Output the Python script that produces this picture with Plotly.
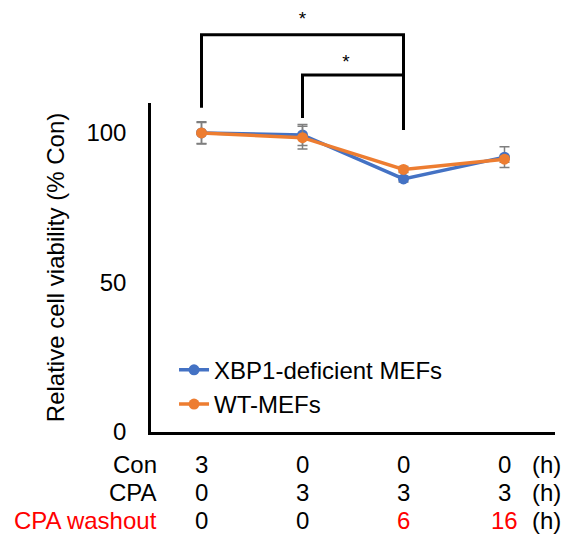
import plotly.graph_objects as go

positions = [0, 1, 2, 3]
xbp1 = [100.0, 99.3, 84.6, 91.9]
xbp1_err = [3.5, 3.5, 1.0, 3.5]
wt = [100.0, 98.4, 87.8, 91.2]
wt_err = [3.7, 3.8, 1.0, 1.0]

con_h = ["3", "0", "0", "0"]
cpa_h = ["0", "3", "3", "3"]
washout_h = ["0", "0", "6", "16"]
row_labels = ["Con", "CPA", "CPA washout"]

# significance brackets (data units)
outer_x = [0, 0, 2, 2]
outer_y = [108.4, 132.8, 132.8, 101]
inner_x = [1, 1, 2]
inner_y = [105, 119.4, 119.4]
star_x = [1.0, 1.43]
star_y = [137.8, 123.4]

FONT = "Liberation Sans, Arial, sans-serif"
BLUE = "#4472C4"
ORANGE = "#ED7D31"
GREY = "#7F7F7F"
FS = 24

YMAX = 110
D1 = 329 / 432

fig = go.Figure()
fig.add_trace(go.Scatter(
    x=positions, y=xbp1, name="XBP1-deficient MEFs", mode="lines+markers",
    line=dict(color=BLUE, width=3.5), marker=dict(color=BLUE, size=11),
    error_y=dict(type="data", array=xbp1_err, color=GREY, thickness=1.5, width=5),
))
fig.add_trace(go.Scatter(
    x=positions, y=wt, name="WT-MEFs", mode="lines+markers",
    line=dict(color=ORANGE, width=3.5), marker=dict(color=ORANGE, size=11),
    error_y=dict(type="data", array=wt_err, color=GREY, thickness=1.5, width=5),
))
for bx, by in [(outer_x, outer_y), (inner_x, inner_y)]:
    fig.add_trace(go.Scatter(
        x=bx, y=by, mode="lines", xaxis="x2", yaxis="y2",
        line=dict(color="black", width=3), showlegend=False, hoverinfo="skip",
    ))
fig.add_trace(go.Scatter(
    x=star_x, y=star_y, mode="text", text=["*", "*"],
    textfont=dict(size=19, color="black", family=FONT),
    xaxis="x2", yaxis="y2", showlegend=False, hoverinfo="skip",
))

annotations = []
rows = [(con_h, -48), (cpa_h, -76), (washout_h, -104)]
for ri, (vals, ys) in enumerate(rows):
    for xi, v in zip(positions, vals):
        color = "#FF0000" if (ri == 2 and v != "0") else "black"
        annotations.append(dict(x=xi, y=0, xref="x", yref="paper", yshift=ys,
                                text=v, showarrow=False,
                                font=dict(size=FS, color=color, family=FONT)))
    annotations.append(dict(x=0, y=0, xref="paper", yref="paper", yshift=ys, xshift=8,
                            xanchor="right", text=row_labels[ri], showarrow=False,
                            font=dict(size=FS, color="#FF0000" if ri == 2 else "black", family=FONT)))
    annotations.append(dict(x=1, y=0, xref="paper", yref="paper", yshift=ys, xshift=-9,
                            xanchor="center", text="(h)", showarrow=False,
                            font=dict(size=FS, color="black", family=FONT)))

fig.update_layout(
    width=566, height=537,
    margin=dict(l=151, r=11, t=0, b=105),
    paper_bgcolor="white", plot_bgcolor="rgba(0,0,0,0)",
    font=dict(family=FONT, size=FS, color="black"),
    xaxis=dict(range=[-0.5, 3.5], showline=True, linecolor="black", linewidth=2.5,
               showgrid=False, zeroline=False, showticklabels=False, ticks=""),
    yaxis=dict(range=[0, YMAX], domain=[0, D1], showline=True, linecolor="black", linewidth=2.5,
               showgrid=False, zeroline=False, tickvals=[0, 50, 100], ticks="",
               ticklabelstandoff=17, tickfont=dict(size=FS),
               title=dict(text="Relative cell viability (% Con)", font=dict(size=FS), standoff=16)),
    xaxis2=dict(range=[-0.5, 3.5], anchor="y2", visible=False, domain=[0, 1]),
    yaxis2=dict(range=[0, YMAX / D1], domain=[0, 1], anchor="x2", visible=False),
    legend=dict(x=0.057, y=0.195, xanchor="left", yanchor="top", bgcolor="rgba(0,0,0,0)",
                font=dict(size=FS)),
    annotations=annotations,
    showlegend=True,
)

fig.write_html("out.html", config={"displayModeBar": False},
               post_script="document.body.style.margin='0';")
